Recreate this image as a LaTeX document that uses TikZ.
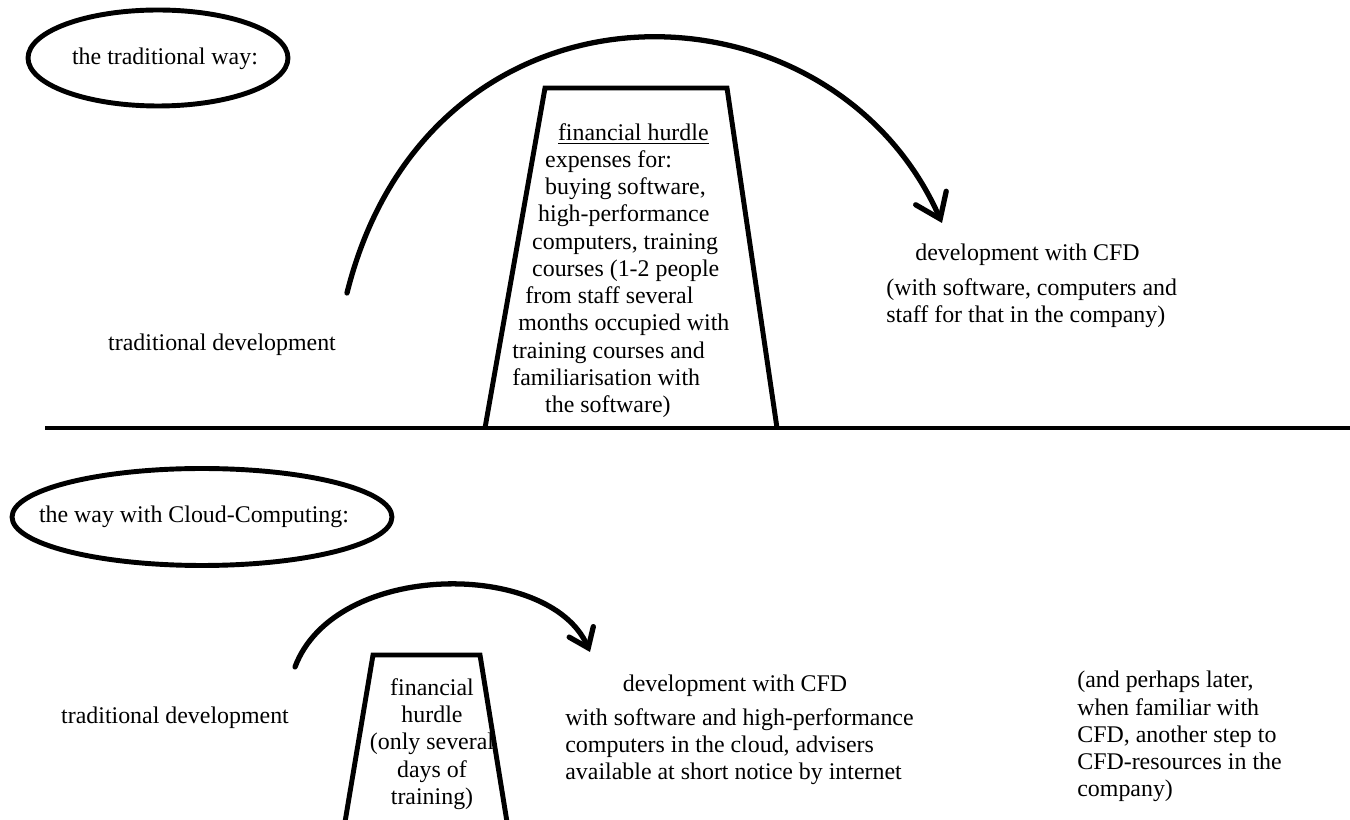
\documentclass[tikz,border=0pt]{standalone}
\usepackage{fontspec}
\setmainfont{Liberation Serif}
\usetikzlibrary{arrows.meta,positioning}

\tikzset{
    txt/.style={inner sep=0pt, font=\fontsize{13.6}{15.5}\selectfont},
    ring/.style={line width=2.8pt},
    hurdle/.style={line width=2.8pt, line join=miter},
    ground/.style={line width=2.2pt},
    bigjump/.style={line width=3pt, line cap=round, -{Straight Barb[length=13pt, width=19pt, line cap=round]}},
    smalljump/.style={line width=3pt, line cap=round, -{Straight Barb[length=10pt, width=15pt, line cap=round]}}
}

\begin{document}
\begin{tikzpicture}[x=0.02cm, y=-0.02cm]
    \useasboundingbox (0,0) rectangle (1350,820);

    % upper half: the traditional way
    \draw[ring] (158,58) ellipse (2.6cm and 0.96cm);
    \node[txt] (tradway) at (165,59) {the traditional way:};

    \draw[ground] (45,428) -- (1350,428);

    \draw[hurdle] (485,428) -- (545,88) -- (727,88) -- (777,428);

    \node[txt, anchor=north west, align=left] (bighurdle) at (512,123) {%
        \hspace*{26pt}\underline{financial hurdle}\\
        \hspace*{18.7pt}expenses for:\\
        \hspace*{18.7pt}buying software,\\
        \hspace*{14.7pt}high-performance\\
        \hspace*{11.3pt}computers, training\\
        \hspace*{11.3pt}courses (1-2 people\\
        \hspace*{7.4pt}from staff several\\
        \hspace*{3.4pt}months occupied with\\
        training courses and\\
        familiarisation with\\
        \hspace*{18.7pt}the software)};

    \node[txt] (tradold) at (222,345) {traditional development};
    \node[txt, anchor=west] (cfdtitle) at (915,255) {development with CFD};
    \node[txt, anchor=north west, align=left] (cfdtext) at (886,278) {(with software, computers and\\staff for that in the company)};

    \coordinate (bigstart) at (347,293);
    \coordinate (bigend) at (942,223);
    \draw[bigjump] (bigstart) .. controls (430,-40) and (830,-30) .. (bigend);

    % lower half: the way with Cloud-Computing
    \draw[ring] (202,517) ellipse (3.8cm and 0.97cm);
    \node[txt] (cloudway) at (194,517) {the way with Cloud-Computing:};

    \draw[hurdle] (345,822) -- (373,655) -- (480,655) -- (507,822);

    \node[txt, align=center] (smallhurdle) at (432,744) {financial\\hurdle\\(only several\\days of\\training)};

    \node[txt] (tradnew) at (175,718) {traditional development};
    \node[txt] (cloudtitle) at (735,686) {development with CFD};
    \node[txt, anchor=north west, align=left] (cloudtext) at (565,708) {with software and high-performance\\computers in the cloud, advisers\\available at short notice by internet};

    \node[txt, anchor=north west, align=left] (later) at (1077,671) {(and perhaps later,\\when familiar with\\CFD, another step to\\CFD-resources in the\\company)};

    \coordinate (smallstart) at (295,667);
    \coordinate (smallend) at (590,652);
    \draw[smalljump] (smallstart) .. controls (335,560) and (550,560) .. (smallend);
\end{tikzpicture}
\end{document}
